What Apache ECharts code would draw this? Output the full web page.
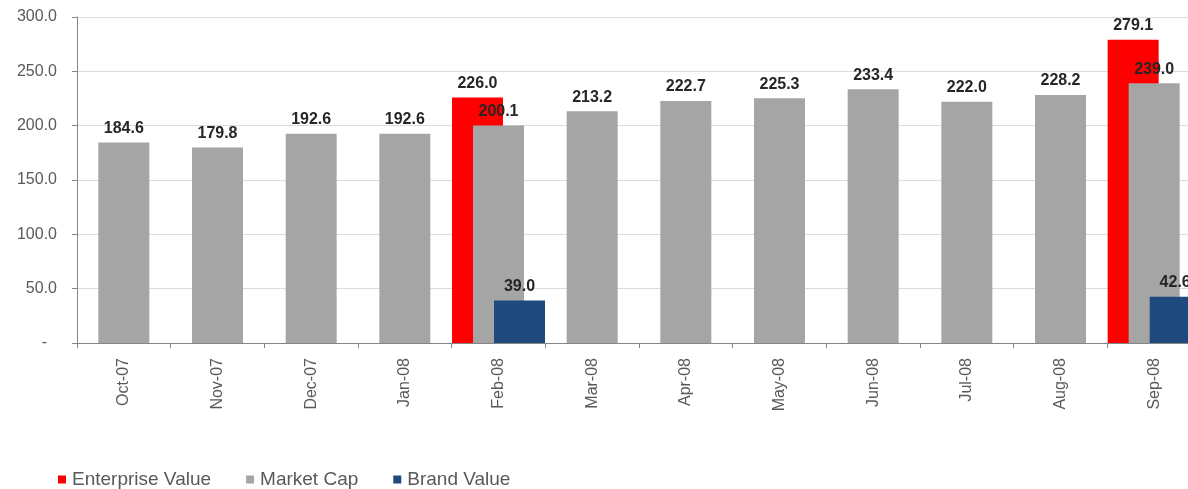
<!DOCTYPE html>
<html>
<head>
<meta charset="utf-8">
<script src="https://cdn.jsdelivr.net/npm/echarts@6/dist/echarts.min.js"></script>
<style>
  html, body { margin: 0; padding: 0; background: #ffffff; overflow: hidden; }
  #wrap { width: 1188px; height: 489px; overflow: hidden; }
  /* the plot runs slightly past the right edge of the page */
  #chart { width: 1201px; height: 489px; }
</style>
</head>
<body>
<div id="wrap"><div id="chart"></div></div>
<script>
// Monthly valuation, Oct-07 to Sep-08 (values in the same unit as the axis)
const months = ['Oct-07', 'Nov-07', 'Dec-07', 'Jan-08', 'Feb-08', 'Mar-08',
                'Apr-08', 'May-08', 'Jun-08', 'Jul-08', 'Aug-08', 'Sep-08'];
const enterpriseValue = [null, null, null, null, 226.0, null, null, null, null, null, null, 279.1];
const marketCap = [184.6, 179.8, 192.6, 192.6, 200.1, 213.2, 222.7, 225.3, 233.4, 222.0, 228.2, 239.0];
const brandValue = [null, null, null, null, 39.0, null, null, null, null, null, null, 42.6];
const yTicks = [0, 50, 100, 150, 200, 250, 300];

const FONT = '"Liberation Sans", Arial, sans-serif';

const valueLabel = {
  show: true,
  position: 'top',
  distance: 6,
  fontFamily: FONT,
  fontSize: 16,
  fontWeight: 'bold',
  color: '#262626',
  formatter: p => (p.value == null ? '' : Number(p.value).toFixed(1))
};

const chart = echarts.init(document.getElementById('chart'), null, { renderer: 'canvas' });

chart.setOption({
  animation: false,
  backgroundColor: '#ffffff',
  textStyle: { fontFamily: FONT },
  grid: { left: 77, top: 17, right: 0, bottom: 146, containLabel: false },
  legend: {
    left: 53,
    top: 465,
    itemWidth: 8,
    itemHeight: 8,
    itemGap: 35,
    icon: 'rect',
    textStyle: { fontFamily: FONT, fontSize: 19, color: '#595959', padding: [0, 0, 0, 1] },
    data: ['Enterprise Value', 'Market Cap', 'Brand Value']
  },
  xAxis: {
    type: 'category',
    data: months,
    axisLine: { lineStyle: { color: '#868686', width: 1 } },
    axisTick: { show: true, length: 5, lineStyle: { color: '#868686' } },
    axisLabel: {
      rotate: 90,
      margin: 15,
      fontFamily: FONT,
      fontSize: 16,
      color: '#595959',
      interval: 0
    },
    splitLine: { show: false }
  },
  yAxis: {
    type: 'value',
    min: yTicks[0],
    max: yTicks[yTicks.length - 1],
    interval: 50,
    axisLine: { show: true, lineStyle: { color: '#868686', width: 1 } },
    axisTick: { show: true, length: 5, lineStyle: { color: '#868686' } },
    axisLabel: {
      margin: 20,
      fontFamily: FONT,
      fontSize: 16,
      color: '#595959',
      formatter: v => (v === 0 ? '{dash|-}' : v.toFixed(1)),
      rich: { dash: { fontFamily: FONT, fontSize: 16, color: '#595959', padding: [0, 10, 0, 0] } }
    },
    splitLine: { show: true, lineStyle: { color: '#dcdcdc', width: 1 } }
  },
  series: [
    {
      name: 'Enterprise Value',
      type: 'bar',
      data: enterpriseValue,
      barWidth: 51,
      barGap: '-58.8%',
      itemStyle: { color: '#ff0000' },
      label: valueLabel
    },
    {
      name: 'Market Cap',
      type: 'bar',
      data: marketCap,
      barWidth: 51,
      barGap: '-58.8%',
      itemStyle: { color: '#a5a5a5' },
      label: valueLabel
    },
    {
      name: 'Brand Value',
      type: 'bar',
      data: brandValue,
      barWidth: 51,
      barGap: '-58.8%',
      itemStyle: { color: '#1f4a7e' },
      label: valueLabel
    }
  ]
});
</script>
</body>
</html>
